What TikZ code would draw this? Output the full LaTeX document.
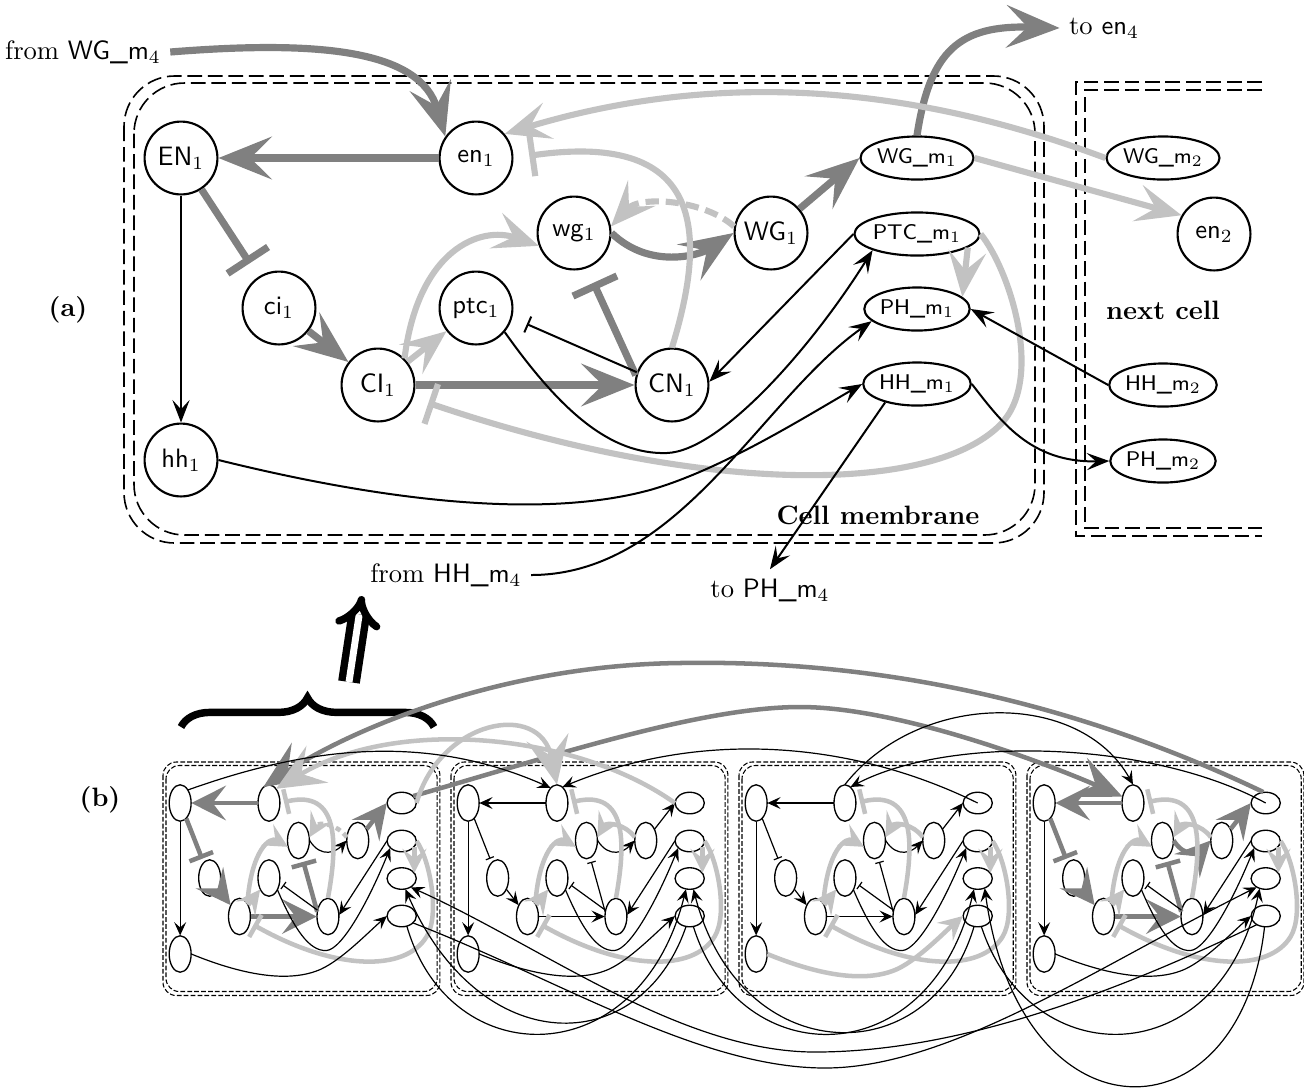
\documentclass[tikz,border=0pt]{standalone}
\usepackage{tikz}
\usetikzlibrary{arrows.meta,shapes.geometric,decorations.pathreplacing}
\definecolor{dkg}{gray}{0.5}
\definecolor{ltg}{gray}{0.76}
\tikzset{
  gene/.style={circle, draw=black, thick, minimum size=27.4pt, inner sep=0pt, font=\sffamily},
  prot/.style={ellipse, draw=black, thick, minimum width=36.5pt, minimum height=16.2pt,
               inner sep=0pt, font=\sffamily\footnotesize},
  frame/.style={draw=black, line width=0.6pt, dash pattern=on 5.5pt off 2.2pt, rounded corners=19pt},
  drk/.style={draw=dkg, line width=2.7pt, >={Stealth[length=20pt, width=16pt, inset=8pt]}},
  lgt/.style={draw=ltg, line width=2.3pt, >={Stealth[length=17pt, width=14pt, inset=7pt]}},
  blk/.style={draw=black, line width=0.75pt, >={Stealth[length=8.5pt, width=6.5pt, inset=3.5pt]}},
  act/.style={->},
  inh/.style={-{Bar[width=2pt 6]}, shorten >=6pt},
  lbl/.style={font=\bfseries},
}
\newcommand{\lbltxt}[1]{#1}
% one cell of the network, drawn in the coordinates of part (a)
\newcommand{\cellnet}[1]{%
  \draw[frame] (124,76) rectangle (1044,543);
  \draw[frame] (134,83) rectangle (1035,535);
  \node[gene] (#1EN) at (181,158) {\lbltxt{EN$_1$}};
  \node[gene] (#1en) at (476,158) {\lbltxt{en$_1$}};
  \node[gene] (#1wg) at (574,233) {\lbltxt{wg$_1$}};
  \node[gene] (#1WG) at (771,233) {\lbltxt{WG$_1$}};
  \node[gene] (#1ci) at (279,308) {\lbltxt{ci$_1$}};
  \node[gene] (#1ptc) at (476,308) {\lbltxt{ptc$_1$}};
  \node[gene] (#1CI) at (378,385) {\lbltxt{CI$_1$}};
  \node[gene] (#1CN) at (672,385) {\lbltxt{CN$_1$}};
  \node[gene] (#1hh) at (181,460) {\lbltxt{hh$_1$}};
  \node[prot] (#1WGm) at (917,158) {\lbltxt{WG\_m$_1$}};
  \node[prot] (#1PTCm) at (917,234) {\lbltxt{PTC\_m$_1$}};
  \node[prot] (#1PHm) at (917,309) {\lbltxt{PH\_m$_1$}};
  \node[prot] (#1HHm) at (917,384) {\lbltxt{HH\_m$_1$}};
  \draw[gP, act] (#1en) -- (#1EN);
  \draw[gP, inh] (#1EN) -- (#1ci);
  \draw[blk, act] (#1EN) -- (#1hh);
  \draw[gP, act] (#1ci) -- (#1CI);
  \draw[gP, act] (#1CI) -- (#1CN);
  \draw[lgt, act] (#1CI) -- (#1ptc);
  \draw[lgt, act] (#1CI.45) .. controls (418,250) and (480,225) .. (#1wg.200);
  \draw[gQ, act] (#1wg.east) .. controls (650,270) and (700,255) .. (#1WG.west);
  \draw[gS, act] (#1WG.170) .. controls (705,200) and (640,195) .. (#1wg.10);
  \draw[gR, act] (#1WG) -- (#1WGm.west);
  \draw[lgt, inh] (#1CN.north) .. controls (705,240) and (710,130) .. (#1en.east);
  \draw[gR, inh] (#1CN.165) -- (#1wg.-70);
  \draw[blk, inh] (#1CN.160) -- (#1ptc.-15);
  \draw[blk, act] (#1ptc.-40) .. controls (560,410) and (610,455) .. (667,453)
    .. controls (720,451) and (810,350) .. (#1PTCm.200);
  \draw[blk, act] (#1PTCm.west) -- (#1CN.5);
  \draw[lgt, act] (#1PTCm.-15) -- (#1PHm.15);
  \draw[lgt, inh] (#1PTCm.east) .. controls (1010,270) and (1045,380) .. (1000,425)
    .. controls (930,495) and (700,495) .. (#1CI.-20);
  \draw[gT, act] (#1hh.east) .. controls (380,500) and (540,520) .. (650,490)
    .. controls (720,470) and (800,420) .. (#1HHm.west);
}

\begin{document}
\begin{tikzpicture}[x=0.376pt, y=-0.376pt]
\useasboundingbox (0,0) rectangle (1304,1088);

% (a) one cell in detail
\begin{scope}[gP/.style={drk}, gQ/.style={drk}, gR/.style={drk},
              gS/.style={lgt, dash pattern=on 5pt off 2.6pt}, gT/.style={blk}]
  \cellnet{a}
\end{scope}
\draw[frame, sharp corners] (1262,82) -- (1076,82) -- (1076,536) -- (1262,536);
\draw[frame, sharp corners] (1262,90) -- (1085,90) -- (1085,528) -- (1262,528);

\node[prot] (WGm2) at (1163,158) {WG\_m$_2$};
\node[gene] (en2) at (1214,234) {en$_2$};
\node[prot] (HHm2) at (1163,385) {HH\_m$_2$};
\node[prot] (PHm2) at (1163,461) {PH\_m$_2$};
\node (fromWG) at (83,52) {from \textsf{WG\_m}$_4$};
\node (toEN) at (1104,28) {to \textsf{en}$_4$};
\node (fromHH) at (446,575) {from \textsf{HH\_m}$_4$};
\node (toPH) at (770,590) {to \textsf{PH\_m}$_4$};
\node[lbl] (labA) at (68,310) {(a)};
\node[lbl] (labB) at (100,800) {(b)};
\node[lbl] (memb) at (878,515) {Cell membrane};
\node[lbl] (next) at (1163,310) {next cell};

\draw[drk, act] (fromWG.east) .. controls (320,40) and (420,50) .. (aen.145);
\draw[drk, act] (aWGm.north) .. controls (930,50) and (960,25) .. (toEN.west);
\draw[lgt, act] (aWGm.east) -- (en2.150);
\draw[lgt, act] (WGm2.west) .. controls (950,100) and (750,60) .. (aen.40);
\draw[blk, act] (aHHm.east) .. controls (1000,420) and (1030,463) .. (PHm2.west);
\draw[blk, act] (HHm2.west) -- (aPHm.east);
\draw[blk, act] (aHHm.-150) -- (toPH.north);
\draw[blk, act] (fromHH.east) .. controls (680,575) and (760,400) .. (aPHm.195);

% brace and arrow up to (a)
\coordinate (brL) at (181,727);
\coordinate (brR) at (434,727);
\draw[decorate, decoration={brace, amplitude=11pt}, line width=2.8pt] (brL) -- (brR);
\coordinate (upS) at (349,682);
\coordinate (upE) at (362,596);
\draw[double, line width=2.8pt, double distance=2.6pt, -{Implies}] (upS) -- (upE);

% (b) four cells
\begin{scope}[
  drk/.style={draw=dkg, line width=1.7pt, >={Stealth[length=13pt, width=13pt, inset=5pt]}},
  lgt/.style={draw=ltg, line width=1.7pt, >={Stealth[length=9pt, width=9pt, inset=3.5pt]}},
  blk/.style={draw=black, line width=0.45pt, >={Stealth[length=5pt, width=4.5pt, inset=2pt]}},
  bigact/.style={-{Stealth[length=18pt, width=16pt, inset=7pt]}},
  inh/.style={-{Bar[width=1pt 5]}, shorten >=1.5pt},
  gene/.append style={line width=0.5pt},
  prot/.append style={line width=0.5pt},
  frame/.style={draw=black, line width=0.4pt, dash pattern=on 1.8pt off 0.8pt, rounded corners=5pt}]
  \renewcommand{\lbltxt}[1]{}
  \begin{scope}[shift={(163,762)}, xscale=0.301, yscale=0.5, shift={(-124,-76)}, transform shape,
      gP/.style={drk}, gQ/.style={blk}, gR/.style={drk},
      gS/.style={lgt, dash pattern=on 2pt off 1.5pt}, gT/.style={blk}]
    \cellnet{b1}
  \end{scope}
  \begin{scope}[shift={(451,762)}, xscale=0.301, yscale=0.5, shift={(-124,-76)}, transform shape,
      gP/.style={blk}, gQ/.style={blk}, gR/.style={blk}, gS/.style={lgt}, gT/.style={blk}]
    \cellnet{b2}
  \end{scope}
  \begin{scope}[shift={(739,762)}, xscale=0.301, yscale=0.5, shift={(-124,-76)}, transform shape,
      gP/.style={blk}, gQ/.style={blk}, gR/.style={blk}, gS/.style={lgt}, gT/.style={lgt}]
    \cellnet{b3}
  \end{scope}
  \begin{scope}[shift={(1027,762)}, xscale=0.301, yscale=0.5, shift={(-124,-76)}, transform shape,
      gP/.style={drk}, gQ/.style={drk}, gR/.style={drk}, gS/.style={lgt}, gT/.style={blk}]
    \cellnet{b4}
  \end{scope}
  % links between neighbouring cells
  \draw[drk, bigact] (b1WGm.20) .. controls (550,757) and (700,707) .. (800,707)
    .. controls (900,707) and (1050,765) .. (b4en.160);
  \draw[drk, bigact] (b4WGm.110) .. controls (1050,690) and (850,660) .. (680,663)
    .. controls (500,665) and (350,730) .. (b1en.120);
  \draw[lgt, bigact] (b1WGm.east) .. controls (440,720) and (540,700) .. (b2en.north);
  \draw[lgt, bigact] (b2WGm.west) .. controls (580,735) and (400,715) .. (b1en.50);
  \draw[blk, act] (b1EN.45) .. controls (300,750) and (420,730) .. (b2en.125);
  \draw[blk, act] (b3WGm.center) .. controls (850,740) and (700,730) .. (b2en.60);
  \draw[blk, act] (b4WGm.center) .. controls (1150,740) and (950,735) .. (b3en.60);
  \draw[blk, act] (b3en.north) .. controls (920,690) and (1080,690) .. (b4en.north);
  \draw[blk, act] (b1HHm.-50) .. controls (450,1075) and (640,1075) .. (b2PHm.-120);
  \draw[blk, act] (b2HHm.-120) .. controls (640,1060) and (480,1060) .. (b1PHm.-60);
  \draw[blk, act] (b2HHm.-60) .. controls (740,1075) and (930,1075) .. (b3PHm.-120);
  \draw[blk, act] (b3HHm.-120) .. controls (930,1075) and (740,1070) .. (b2PHm.-60);
  \draw[blk, act] (b3HHm.-60) .. controls (1030,1075) and (1220,1075) .. (b4PHm.-135);
  \draw[blk, act] (b4HHm.-100) .. controls (1240,1145) and (1020,1145) .. (b3PHm.-40);
  \draw[blk, act] (b4HHm.-150) .. controls (1100,1000) and (950,1052) .. (815,1052)
    .. controls (680,1052) and (540,945) .. (b1PHm.-30);
  \draw[blk, act] (b1HHm.-20) .. controls (560,980) and (700,1068) .. (825,1068)
    .. controls (950,1068) and (1100,965) .. (b4PHm.210);
\end{scope}
\end{tikzpicture}
\end{document}
